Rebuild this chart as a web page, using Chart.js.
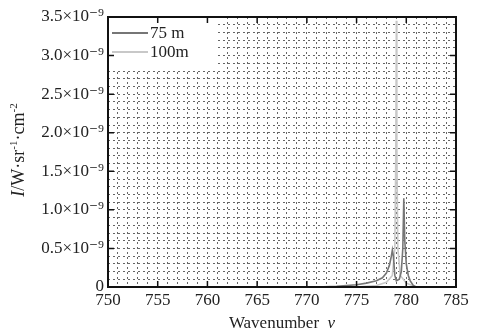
<!DOCTYPE html>
<html>
<head>
<meta charset="utf-8">
<script src="https://cdn.jsdelivr.net/npm/chart.js@4"></script>
<style>
  html, body { margin: 0; padding: 0; background: #fff; }
  #wrap { width: 478px; height: 334px; }
</style>
</head>
<body>
<div id="wrap"><canvas id="chart"></canvas></div>
<script>
// intensities are in units of 1e-9 W·sr^-1·cm^-2
const seriesLabels = ['75 m', '100m'];
const x75 = [771, 773, 775, 776, 777, 777.6, 778.0, 778.3, 778.5, 778.6, 778.7, 778.85, 779.0, 779.3, 779.5, 779.65, 779.75, 779.85, 780.0, 780.2, 780.4, 780.7, 781];
const y75 = [0, 0.01, 0.03, 0.05, 0.08, 0.12, 0.18, 0.28, 0.4, 0.48, 0.4, 0.15, 0.08, 0.1, 0.2, 0.5, 1.15, 0.6, 0.3, 0.15, 0.08, 0.02, 0];
const x100 = [775, 777, 778, 778.6, 778.85, 778.95, 779.0, 779.05, 779.15, 779.4, 780, 781];
const y100 = [0, 0.02, 0.06, 0.15, 0.5, 1.8, 3.45, 1.8, 0.5, 0.15, 0.05, 0];
const xTickLabels = [750, 755, 760, 765, 770, 775, 780, 785];
const yTickLabels = [0, 0.5, 1.0, 1.5, 2.0, 2.5, 3.0, 3.5];

const colors = ['#767676', '#c8c8c8'];
const serif = '"Liberation Serif", "DejaVu Serif", serif';

const toPoints = (xs, ys) => xs.map((x, i) => ({ x: x, y: ys[i] }));
const isMajor = (v, step) => Math.abs(v / step - Math.round(v / step)) < 1e-6;

// frame, inward major ticks, legend and axis titles
const decorations = {
    id: 'decorations',
    afterDatasetsDraw(chart) {
        const { ctx, chartArea: a, scales } = chart;
        ctx.save();
        // legend box
        ctx.fillStyle = '#fff';
        ctx.fillRect(a.left + 1, a.top + 1, 109, 52);
        chart.data.datasets.forEach((ds, i) => {
            const y = a.top + 16 + i * 19;
            ctx.strokeStyle = ds.borderColor;
            ctx.lineWidth = 2;
            ctx.beginPath();
            ctx.moveTo(a.left + 4, y);
            ctx.lineTo(a.left + 40, y);
            ctx.stroke();
            ctx.fillStyle = '#222';
            ctx.font = '17px ' + serif;
            ctx.textBaseline = 'middle';
            ctx.textAlign = 'left';
            ctx.fillText(ds.label, a.left + 42, y + 1);
        });
        // inward ticks
        ctx.strokeStyle = '#111';
        ctx.lineWidth = 1.5;
        xTickLabels.forEach(v => {
            const px = scales.x.getPixelForValue(v);
            ctx.beginPath();
            ctx.moveTo(px, a.bottom); ctx.lineTo(px, a.bottom - 6);
            ctx.moveTo(px, a.top); ctx.lineTo(px, a.top + 6);
            ctx.stroke();
        });
        yTickLabels.forEach(v => {
            const py = scales.y.getPixelForValue(v);
            ctx.beginPath();
            ctx.moveTo(a.left, py); ctx.lineTo(a.left + 6, py);
            ctx.moveTo(a.right, py); ctx.lineTo(a.right - 6, py);
            ctx.stroke();
        });
        // frame
        ctx.lineWidth = 2;
        ctx.strokeRect(a.left, a.top, a.right - a.left, a.bottom - a.top);
        // x title
        ctx.fillStyle = '#222';
        ctx.textBaseline = 'alphabetic';
        const t1 = 'Wavenumber  ';
        ctx.font = '17px ' + serif;
        const w1 = ctx.measureText(t1).width;
        ctx.font = 'italic 17px ' + serif;
        const w2 = ctx.measureText('v').width;
        const sx = (a.left + a.right) / 2 - (w1 + w2) / 2;
        ctx.textAlign = 'left';
        ctx.font = '17px ' + serif;
        ctx.fillText(t1, sx, 328);
        ctx.font = 'italic 17px ' + serif;
        ctx.fillText('v', sx + w1, 328);
        // y title
        ctx.translate(24, 150);
        ctx.rotate(-Math.PI / 2);
        const parts = [
            ['italic 18px ', 'I', 0],
            ['18px ', '/W·sr', 0],
            ['11px ', '-1', -7],
            ['18px ', '·cm', 0],
            ['11px ', '-2', -7]
        ];
        let tw = 0;
        parts.forEach(p => { ctx.font = p[0] + serif; tw += ctx.measureText(p[1]).width; });
        let cx = -tw / 2;
        parts.forEach(p => {
            ctx.font = p[0] + serif;
            ctx.fillText(p[1], cx, p[2]);
            cx += ctx.measureText(p[1]).width;
        });
        ctx.restore();
    }
};

new Chart(document.getElementById('chart'), {
    type: 'scatter',
    data: {
        datasets: [
            { label: seriesLabels[0], data: toPoints(x75, y75), borderColor: colors[0], backgroundColor: colors[0] },
            { label: seriesLabels[1], data: toPoints(x100, y100), borderColor: colors[1], backgroundColor: colors[1] }
        ]
    },
    options: {
        responsive: true,
        maintainAspectRatio: false,
        animation: false,
        showLine: true,
        elements: {
            point: { radius: 0, hoverRadius: 0 },
            line: { borderWidth: 1.6, tension: 0 }
        },
        layout: { padding: { top: 17, right: 22, left: 0, bottom: 0 } },
        plugins: { legend: { display: false }, tooltip: { enabled: false } },
        scales: {
            x: {
                type: 'linear',
                min: 750, max: 785,
                afterFit: s => { s.height = 47; },
                border: { display: false, dash: [2, 3] },
                grid: { color: '#666', lineWidth: 1, drawTicks: false },
                ticks: {
                    stepSize: 1, autoSkip: false, maxRotation: 0, padding: 3,
                    color: '#222', font: { family: serif, size: 17 },
                    callback: v => isMajor(v, 5) ? String(v) : ''
                }
            },
            y: {
                type: 'linear',
                min: 0, max: 3.5,
                afterFit: s => { s.width = 108; },
                border: { display: false, dash: [2, 3] },
                grid: { color: '#666', lineWidth: 1, drawTicks: false },
                ticks: {
                    stepSize: 0.1, autoSkip: false, padding: 4,
                    color: '#222', font: { family: serif, size: 17 },
                    callback: v => {
                        if (!isMajor(v, 0.5)) return '';
                        if (Math.abs(v) < 1e-9) return '0';
                        return v.toFixed(1) + '×10⁻⁹';
                    }
                }
            }
        }
    },
    plugins: [decorations]
});
</script>
</body>
</html>
